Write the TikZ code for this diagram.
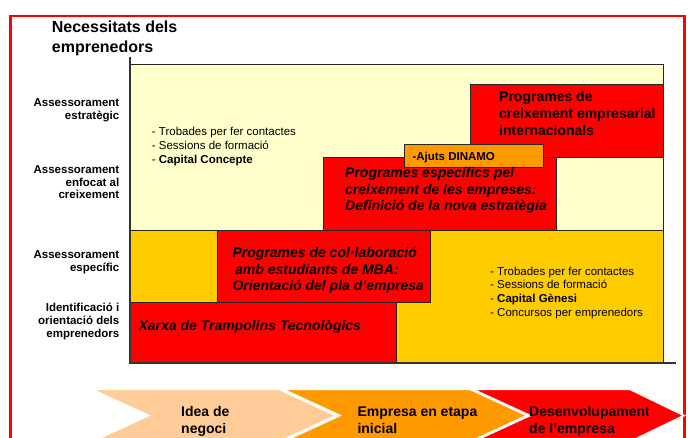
\documentclass[tikz,border=0pt]{standalone}
\usepackage{fontspec}
\setmainfont{Liberation Sans}
\definecolor{lightyel}{HTML}{FFFFCC}
\definecolor{gold}{HTML}{FFCC00}
\definecolor{pured}{HTML}{FF0000}
\definecolor{orng}{HTML}{FF9900}
\definecolor{peach}{HTML}{FFCC99}
\begin{document}
\begin{tikzpicture}[x=1pt,y=-1pt,
  txt/.style={inner sep=0pt, align=left, anchor=base west},
  lbl/.style={inner sep=0pt, align=right, anchor=base east,
     font=\fontsize{11.5}{12.8}\selectfont\bfseries},
  bul/.style={txt, font=\fontsize{11.5}{14.1}\selectfont},
  boxtxt/.style={txt, font=\fontsize{14}{16.7}\selectfont\bfseries},
  boxit/.style={txt, font=\fontsize{14}{16.7}\selectfont\bfseries\itshape},
  arrtxt/.style={txt, font=\fontsize{14}{16.7}\selectfont\bfseries},
  boxline/.style={draw=black!85, line width=0.8pt},
  chev/.style={draw=white, line width=1.6pt}
]
\useasboundingbox (0,0) rectangle (688,437);
\fill[white] (0,0) rectangle (688,437);

% outer red frame
\draw[pured, line width=2.2pt] (10.5,15.8) rectangle (684.5,460);

% title (base anchor = last line baseline)
\node[txt, font=\fontsize{16}{20}\selectfont\bfseries] (title) at (51.7,52.7) {Necessitats dels\\emprenedors};

% chart background
\fill[lightyel] (130,64) rectangle (663,230);
\fill[gold] (130,230) rectangle (663,363);
\draw[black!85, line width=0.8pt] (130,64) -- (663,64) -- (663,363);
\draw[black!85, line width=0.8pt] (130,230) -- (663,230);

% boxes
\filldraw[fill=pured, boxline] (470,84) rectangle (663,157.3);
\filldraw[fill=pured, boxline] (323.3,157.3) rectangle (556.7,230);
\filldraw[fill=orng, boxline] (404,144) rectangle (543.3,167.3);
\filldraw[fill=pured, boxline] (217.7,230) rectangle (430.7,302.3);
\filldraw[fill=pured, boxline] (130,302.3) rectangle (396.7,362.7);

% axes
\draw[black!80, line width=1.2pt] (130,57) -- (130,363) -- (676,363);

% left labels
\node[lbl] (l1) at (119.5,119.5) {Assessorament\\estratègic};
\node[lbl] (l2) at (119.5,198.9) {Assessorament\\enfocat al\\creixement};
\node[lbl] (l3) at (119.5,271.1) {Assessorament\\específic};
\node[lbl] (l4) at (119.5,337.3) {Identificació i\\orientació dels\\emprenedors};

% bullet lists
\node[bul] (bA) at (151.7,163.2) {- Trobades per fer contactes\\- Sessions de formació\\- \textbf{Capital Concepte}};
\node[bul, font=\fontsize{11.5}{13.9}\selectfont] (bB) at (490,316.7) {- Trobades per fer contactes\\- Sessions de formació\\- \textbf{Capital Gènesi}\\- Concursos per emprenedors};

% box texts
\node[boxtxt] (intl) at (499,135.1) {Programes de\\creixement empresarial\\internacionals};
\node[boxit] (espec) at (345,210.7) {Programes específics pel\\creixement de les empreses:\\Definició de la nova estratègia};
\node[txt, font=\fontsize{11.5}{13}\selectfont\bfseries] (ajuts) at (412.3,160) {-Ajuts DINAMO};
\node[boxit] (mba) at (232.3,290.7) {Programes de col·laboració\\\hspace*{2.7pt}amb estudiants de MBA:\\Orientació del pla d’empresa};
\node[boxit] (xarxa) at (138.3,330) {Xarxa de Trampolins Tecnològics};

% bottom chevrons
\filldraw[fill=peach, chev] (91.7,389.3) -- (279,389.3) -- (336,415.5) -- (279,441.7) -- (91.7,441.7) -- (148.7,415.5) -- cycle;
\filldraw[fill=orng, chev] (283,389.3) -- (470,389.3) -- (527,415.5) -- (470,441.7) -- (283,441.7) -- (340,415.5) -- cycle;
\filldraw[fill=pured, chev] (473,389.3) -- (630,389.3) -- (684,415.5) -- (630,441.7) -- (473,441.7) -- (530,415.5) -- cycle;

\node[arrtxt] (a1) at (181,433.4) {Idea de\\negoci};
\node[arrtxt] (a2) at (357.3,433.4) {Empresa en etapa\\inicial};
\node[arrtxt] (a3) at (529,433.4) {Desenvolupament\\de l’empresa};
\end{tikzpicture}
\end{document}
